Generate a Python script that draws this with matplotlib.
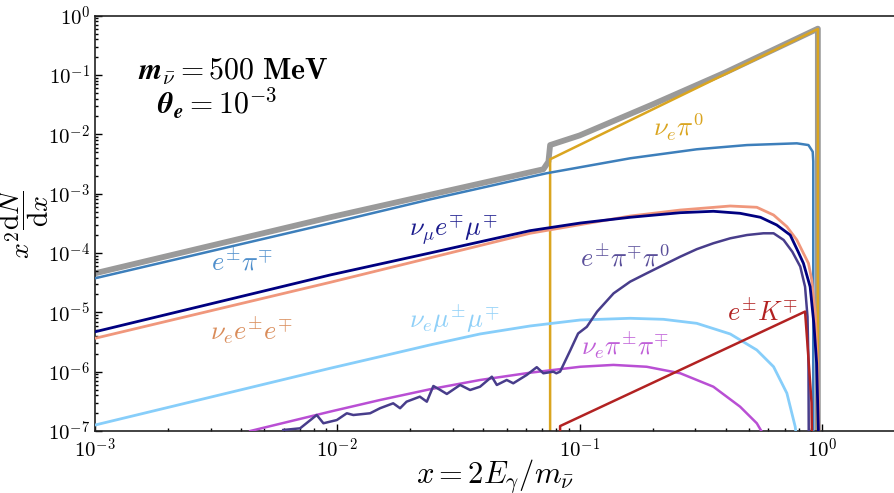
import numpy as np
import matplotlib.pyplot as plt
from matplotlib.ticker import FuncFormatter, LogLocator
from matplotlib.mathtext import MathTextParser

plt.rcParams['mathtext.fontset'] = 'cm'

# total (grey)
x_tot = [1e-3, 0.00933, 0.0708, 0.0743, 0.0755, 0.1, 0.118, 0.2, 0.4, 0.961, 0.961]
y_tot = [4.55e-5, 4.0e-4, 2.58e-3, 3.46e-3, 6.6e-3, 9.6e-3, 1.28e-2, 3.2e-2, 0.111, 0.605, 1e-9]

# e+- pi-+
x_epi = [1e-3, 0.00933, 0.0241, 0.0730, 0.1615, 0.304, 0.49, 0.787, 0.879, 0.915, 0.92, 0.92]
y_epi = [3.75e-5, 3.17e-4, 8.0e-4, 2.21e-3, 3.95e-3, 5.6e-3, 6.6e-3, 7.06e-3, 6.6e-3, 5.1e-3, 3.5e-3, 1e-9]

# nu_mu e mu
x_numu = [1e-3, 0.00933, 0.0241, 0.0624, 0.1005, 0.1615, 0.26, 0.356, 0.459, 0.557, 0.65, 0.739,
          0.797, 0.838, 0.893, 0.925, 0.95, 0.966, 0.967]
y_numu = [4.7e-6, 4.26e-5, 1.0e-4, 2.38e-4, 3.2e-4, 4.0e-4, 4.78e-4, 5.05e-4, 4.67e-4, 4.0e-4, 2.97e-4, 2.01e-4,
          1.05e-4, 6.7e-5, 2.7e-5, 6.5e-6, 1.38e-6, 1.0e-7, 1e-9]

# nu_e e e
x_nuee = [1e-3, 0.00933, 0.0624, 0.1615, 0.26, 0.418, 0.538, 0.631, 0.716, 0.787, 0.838, 0.879,
          0.907, 0.937, 0.957, 0.97, 0.971]
y_nuee = [3.65e-6, 3.2e-5, 2.15e-4, 4.2e-4, 5.3e-4, 6.2e-4, 5.9e-4, 4.37e-4, 2.78e-4, 1.66e-4, 9.9e-5, 6.7e-5,
          3.5e-5, 9.6e-6, 1.38e-6, 1.0e-7, 1e-9]

# nu_e mu mu
x_numumu = [1e-3, 0.00933, 0.0150, 0.0241, 0.0388, 0.0624, 0.1005, 0.1615, 0.2215, 0.304, 0.418,
            0.538, 0.631, 0.716, 0.775, 0.79]
y_numumu = [1.26e-7, 1.14e-6, 1.79e-6, 2.82e-6, 4.32e-6, 5.89e-6, 7.43e-6, 7.94e-6, 7.63e-6, 6.53e-6, 4.32e-6,
            2.32e-6, 1.21e-6, 4.33e-7, 1.18e-7, 6e-8]

# nu_e pi pi
x_nupipi = [0.00437, 0.00933, 0.0150, 0.0241, 0.0388, 0.0624, 0.1005, 0.1377, 0.189, 0.26, 0.356,
            0.459, 0.538, 0.58]
y_nupipi = [1.0e-7, 2.12e-7, 3.33e-7, 5.05e-7, 7.24e-7, 9.6e-7, 1.21e-6, 1.30e-6, 1.21e-6, 9.4e-7, 5.58e-7,
            2.57e-7, 1.35e-7, 8e-8]

# e pi pi0 (noisy MC)
x_epipi0 = [0.00598, 0.00702, 0.00822, 0.00876, 0.00995, 0.01094, 0.01164, 0.01365, 0.0150, 0.0170,
            0.01815, 0.0193, 0.0219, 0.0234, 0.0249, 0.0266, 0.0283, 0.0321, 0.0353, 0.0388,
            0.0434, 0.0455, 0.0500, 0.0532, 0.0604, 0.0665, 0.0708, 0.0778, 0.0801, 0.083,
            0.0915, 0.0985, 0.107, 0.118, 0.138, 0.1615, 0.189, 0.2215, 0.26, 0.304,
            0.356, 0.418, 0.49, 0.573, 0.631, 0.694, 0.754, 0.813, 0.851, 0.871,
            0.879, 0.885]
y_epipi0 = [1.04e-7, 1.11e-7, 1.86e-7, 1.35e-7, 1.53e-7, 1.99e-7, 1.86e-7, 1.99e-7, 2.42e-7, 2.93e-7,
            2.42e-7, 3.12e-7, 3.79e-7, 3.12e-7, 5.74e-7, 4.91e-7, 4.21e-7, 5.97e-7, 4.91e-7, 5.58e-7,
            8.22e-7, 5.97e-7, 7.24e-7, 6.37e-7, 8.79e-7, 1.19e-6, 9.40e-7, 1.0e-6, 9.4e-7, 1.0e-6,
            2.3e-6, 4.4e-6, 5.7e-6, 1.03e-5, 2.09e-5, 3.29e-5, 4.55e-5, 6.28e-5, 8.67e-5, 1.16e-4,
            1.46e-4, 1.77e-4, 2.01e-4, 2.15e-4, 2.15e-4, 1.66e-4, 1.05e-4, 5.9e-5, 2.7e-5, 8.4e-6,
            1.4e-6, 1e-9]

# e K
x_eK = [0.083, 0.083, 0.851, 0.87, 0.905, 0.92]
y_eK = [1e-9, 1.21e-7, 1.03e-5, 3e-6, 3e-7, 1e-9]

# nu_e pi0 (box)
x_nupi0 = [0.0755, 0.0755, 0.961, 0.961]
y_nupi0 = [1e-9, 3.8e-3, 0.597, 1e-9]


def first_ok(cands):
    p = MathTextParser('agg')
    for s in cands:
        try:
            p.parse(s, dpi=100)
            return s
        except Exception:
            pass
    return cands[-1]


mass_txt = first_ok([r'$\boldsymbol{m}_{\boldsymbol{\bar{\nu}}} = \mathbf{500\ MeV}$',
                     r'$\mathbf{m_{\bar{\nu}} = 500\ MeV}$'])
theta_txt = first_ok([r'$\boldsymbol{\theta}_{\boldsymbol{e}} = \mathbf{10^{-3}}$',
                      r'$\mathbf{\theta_e = 10^{-3}}$'])
ylab_txt = first_ok([r'$x^2\dfrac{\mathrm{d}N}{\mathrm{d}x}$',
                     r'$x^2\frac{\mathrm{d}N}{\mathrm{d}x}$'])

fig = plt.figure(figsize=(8.95, 4.93), dpi=100)
ax = fig.add_axes([95/895, 1-431/493, 800/895, (431-15.7)/493])

ax.plot(x_tot, y_tot, color='#9a9a9a', lw=4.2, zorder=1)
ax.plot(x_epi, y_epi, color='#3d7fbb', lw=1.8, zorder=3)
ax.plot(x_nuee, y_nuee, color='#f0977c', lw=2.0, zorder=3)
ax.plot(x_numu, y_numu, color='#000080', lw=2.0, zorder=4)
ax.plot(x_numumu, y_numumu, color='#87cefa', lw=2.0, zorder=3)
ax.plot(x_nupipi, y_nupipi, color='#b94fd4', lw=1.8, zorder=3)
ax.plot(x_epipi0, y_epipi0, color='#483d8b', lw=1.8, zorder=4)
ax.plot(x_eK, y_eK, color='#b22222', lw=1.8, zorder=4)
ax.plot(x_nupi0, y_nupi0, color='#daa520', lw=1.8, zorder=2)

ax.set_xscale('log')
ax.set_yscale('log')
ax.set_xlim(1e-3, 2.0)
ax.set_ylim(1e-7, 1)

fmt = FuncFormatter(lambda v, p: r'$10^{%d}$' % int(round(np.log10(v))))
ax.xaxis.set_major_formatter(fmt)
ax.yaxis.set_major_formatter(fmt)
ax.yaxis.set_major_locator(LogLocator(base=10, numticks=20))
ax.yaxis.set_minor_locator(LogLocator(base=10, subs=np.arange(2, 10), numticks=20))
ax.tick_params(which='both', direction='in', top=False, right=False, labelsize=15, width=1)
ax.tick_params(which='major', length=5)
ax.tick_params(which='minor', length=2.5)
ax.tick_params(axis='x', pad=5)
ax.spines['right'].set_visible(False)
for s in ['left', 'bottom', 'top']:
    ax.spines[s].set_linewidth(1.2)
    ax.spines[s].set_color('#222222')

ax.set_xlabel(r'$x = 2E_\gamma/m_{\bar{\nu}}$', fontsize=22, labelpad=-3)
ax.set_ylabel(ylab_txt, fontsize=20, labelpad=-2)

ax.text(0.054, 0.866, mass_txt, transform=ax.transAxes, fontsize=21.5, ha='left', va='center')
ax.text(0.0775, 0.788, theta_txt, transform=ax.transAxes, fontsize=21.5, ha='left', va='center')

lab = dict(fontsize=19, ha='center', va='center')
ax.text(0.00404, 7.06e-5, r'$e^{\pm}\pi^{\mp}$', color='#4f8fcc', **lab)
ax.text(0.0303, 2.35e-4, r'$\nu_\mu e^{\mp}\mu^{\mp}$', color='#1a1a8c', **lab)
ax.text(0.00441, 5.04e-6, r'$\nu_e e^{\pm} e^{\mp}$', color='#d98c5a', **lab)
ax.text(0.0303, 7.7e-6, r'$\nu_e\mu^{\pm}\mu^{\mp}$', color='#8fd0f8', **lab)
ax.text(0.1538, 8.2e-5, r'$e^{\pm}\pi^{\mp}\pi^0$', color='#5a4f9a', **lab)
ax.text(0.1538, 2.82e-6, r'$\nu_e\pi^{\pm}\pi^{\mp}$', color='#c060d8', **lab)
ax.text(0.566, 9.75e-6, r'$e^{\pm}K^{\mp}$', color='#b22222', **lab)
ax.text(0.255, 1.33e-2, r'$\nu_e\pi^0$', color='#daa520', **lab)

fig.savefig('out.png', dpi=100)
